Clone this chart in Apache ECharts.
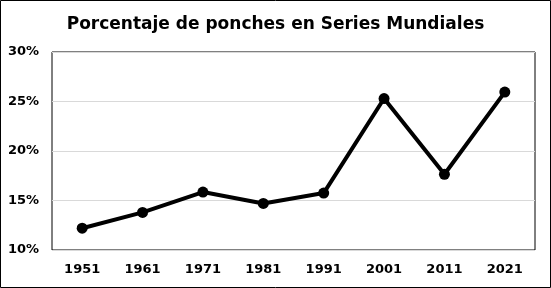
<!DOCTYPE html>
<html><head><meta charset="utf-8">
<script src="https://cdn.jsdelivr.net/npm/echarts@6/dist/echarts.min.js"></script>
<style>html,body{margin:0;padding:0;background:#fff}#c{width:551px;height:288px}</style>
</head><body><div id="c"></div>
<script>
var categories = ['1951','1961','1971','1981','1991','2001','2011','2021'];
var values = [12.2, 13.8, 15.85, 14.7, 15.75, 25.3, 17.65, 25.95];
var yTicks = [10, 15, 20, 25, 30];
var chart = echarts.init(document.getElementById('c'), null, {renderer:'canvas'});
var font = 'DejaVu Sans';
chart.setOption({
  animation:false,
  backgroundColor:'#fff',
  title:{text:'Porcentaje de ponches en Series Mundiales', left:'center', top:11,
    textStyle:{fontFamily:font, fontWeight:'bold', fontSize:17, color:'#000'}},
  graphic:[{type:'rect', shape:{x:0.5,y:0.5,width:550,height:287}, style:{fill:null, stroke:'#000', lineWidth:1}, silent:true}],
  grid:{left:52, right:16, top:52, bottom:38, show:true, borderColor:'#000', borderWidth:1},
  xAxis:{type:'category', data:categories, boundaryGap:true,
    axisLine:{show:false}, axisTick:{show:false},
    axisLabel:{fontFamily:font, fontWeight:'bold', fontSize:13, color:'#000', margin:13}},
  yAxis:{type:'value', min:yTicks[0], max:yTicks[yTicks.length-1], interval:5,
    axisLine:{show:false}, axisTick:{show:false},
    splitLine:{lineStyle:{color:'#d9d9d9', width:1}},
    axisLabel:{fontFamily:font, fontWeight:'bold', fontSize:13, color:'#000', margin:13,
      formatter:function(v){return v+'%';}}},
  series:[{type:'line', data:values, lineStyle:{color:'#000', width:4}, itemStyle:{color:'#000'},
    symbol:'circle', symbolSize:11}]
});
</script></body></html>
